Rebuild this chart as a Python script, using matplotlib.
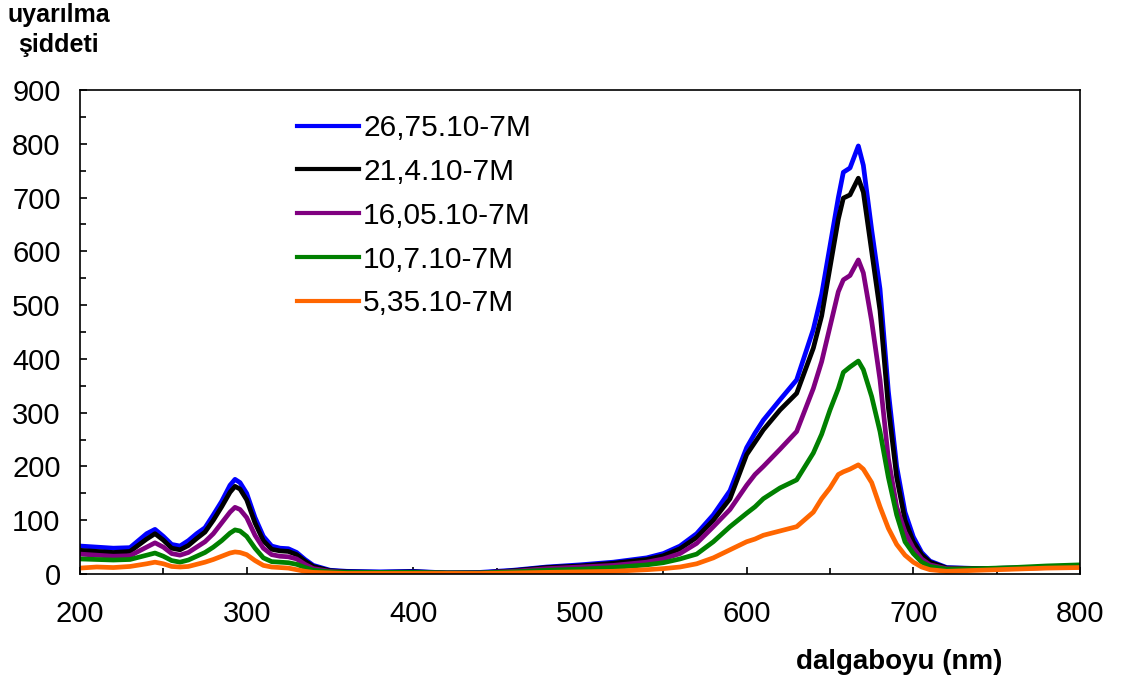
import matplotlib
matplotlib.use("Agg")
import matplotlib.pyplot as plt
from matplotlib.ticker import MultipleLocator

plt.rcParams['font.family'] = ['Liberation Sans', 'DejaVu Sans']

wavelength = [200, 210, 220, 230, 240, 245, 250, 255, 260, 265, 270, 275, 280, 285, 290, 293, 296, 300,
              305, 310, 315, 320, 325, 330, 335, 340, 350, 360, 380, 400, 420, 440, 460, 480, 500, 520,
              540, 550, 560, 570, 580, 590, 600, 605, 610, 620, 630, 640, 645, 650, 655, 658, 662, 667,
              670, 675, 680, 685, 690, 695, 700, 705, 710, 720, 740, 760, 780, 800]

c_2675 = [52, 50, 48, 49, 75, 83, 70, 55, 52, 62, 75, 86, 110, 135, 165, 176, 170, 150,
          105, 70, 52, 48, 47, 40, 27, 16, 7, 5, 4, 5, 2, 3, 7, 13, 17, 22,
          30, 38, 52, 75, 110, 155, 235, 262, 286, 324, 361, 455, 520, 610, 700, 747, 755, 796,
          760, 640, 530, 340, 200, 115, 69, 40, 24, 12, 10, 11, 13, 15]

c_214 = [44, 42, 40, 42, 65, 75, 63, 48, 45, 53, 66, 78, 100, 125, 152, 163, 158, 138,
         95, 62, 46, 43, 42, 36, 24, 14, 6, 4, 3, 4, 2, 2, 6, 12, 15, 20,
         27, 34, 47, 68, 100, 140, 222, 245, 268, 305, 336, 420, 480, 570, 660, 699, 705, 736,
         710, 600, 490, 310, 180, 100, 60, 36, 22, 11, 10, 11, 13, 15]

c_1605 = [37, 35, 33, 34, 50, 58, 50, 38, 35, 40, 50, 60, 75, 95, 115, 124, 120, 105,
          72, 48, 36, 33, 32, 28, 18, 10, 5, 3, 3, 3, 2, 2, 5, 10, 13, 16,
          22, 28, 38, 57, 88, 120, 165, 185, 200, 232, 265, 345, 395, 460, 525, 547, 555, 584,
          560, 470, 361, 215, 125, 78, 48, 28, 17, 10, 9, 10, 12, 14]

c_107 = [28, 27, 26, 27, 35, 39, 33, 25, 22, 26, 33, 40, 50, 62, 76, 82, 80, 70,
         48, 30, 23, 22, 21, 18, 12, 7, 4, 3, 3, 3, 2, 2, 4, 7, 9, 12,
         17, 21, 28, 37, 60, 88, 113, 125, 140, 160, 175, 225, 260, 305, 345, 375, 385, 396,
         380, 330, 265, 180, 110, 60, 38, 22, 14, 9, 10, 12, 15, 17]

c_535 = [11, 13, 12, 14, 19, 22, 19, 14, 13, 14, 18, 22, 27, 33, 39, 41, 40, 36,
         25, 16, 13, 12, 11, 8, 5, 3, 2, 1, 1, 1, 1, 1, 2, 3, 4, 5,
         8, 10, 13, 19, 30, 45, 60, 65, 72, 80, 88, 115, 140, 160, 185, 190, 195, 203,
         195, 170, 125, 85, 55, 35, 22, 13, 8, 5, 7, 9, 11, 12]

labels = ['26,75.10-7M', '21,4.10-7M', '16,05.10-7M', '10,7.10-7M', '5,35.10-7M']
colors = ['#0000FF', '#000000', '#800080', '#008000', '#FF6600']
series = [c_2675, c_214, c_1605, c_107, c_535]

fig = plt.figure(figsize=(11.23, 6.8), dpi=100)
ax = fig.add_axes([80/1123, 1-574/680, 1000/1123, 484/680])

for y, c, lab in zip(series, colors, labels):
    ax.plot(wavelength, y, color=c, lw=3.4, label=lab, solid_joinstyle='round')

ax.set_xlim(200, 800)
ax.set_ylim(0, 900)
ax.xaxis.set_major_locator(MultipleLocator(100))
ax.xaxis.set_minor_locator(MultipleLocator(50))
ax.yaxis.set_major_locator(MultipleLocator(100))
ax.yaxis.set_minor_locator(MultipleLocator(50))
ax.tick_params(which='both', direction='in', top=False, right=False, width=1.2, labelsize=21)
ax.tick_params(which='major', length=5)
ax.tick_params(which='minor', length=4)
ax.tick_params(axis='x', which='major', pad=19)
ax.tick_params(axis='y', which='major', pad=14)
for s in ax.spines.values():
    s.set_linewidth(1.2)

leg = ax.legend(loc='upper left', bbox_to_anchor=(0.205, 0.975), frameon=False, fontsize=21.5,
                handlelength=2.07, handletextpad=0.15, labelspacing=0.53, borderaxespad=0)
for h in leg.get_lines():
    h.set_linewidth(3.0)

fig.text(0.007, 0.978, 'uyarılma', fontsize=18, fontweight='bold', ha='left', va='center')
fig.text(0.016, 0.934, 'şiddeti', fontsize=18, fontweight='bold', ha='left', va='center')
fig.text(0.893, 0.027, 'dalgaboyu (nm)', fontsize=20, fontweight='bold', ha='right', va='center')

fig.savefig('out.png', dpi=100)
